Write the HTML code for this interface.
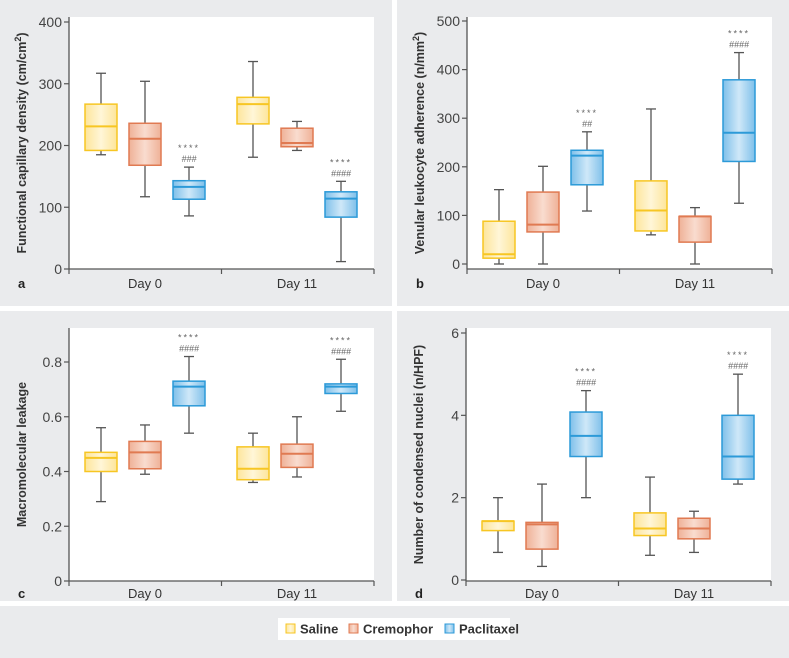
<!DOCTYPE html>
<html><head><meta charset="utf-8"><style>
html,body{margin:0;padding:0;background:#fff;}
svg{display:block;font-family:"Liberation Sans",sans-serif;}
</style></head><body>
<svg id="fig" width="789" height="658" viewBox="0 0 789 658" xmlns="http://www.w3.org/2000/svg">
<defs>
<linearGradient id="gS" x1="0" x2="1"><stop offset="0" stop-color="#fde59a"/><stop offset="0.5" stop-color="#fff6d8"/><stop offset="1" stop-color="#fde59a"/></linearGradient>
<linearGradient id="gC" x1="0" x2="1"><stop offset="0" stop-color="#efb197"/><stop offset="0.5" stop-color="#f9dccf"/><stop offset="1" stop-color="#efb197"/></linearGradient>
<linearGradient id="gP" x1="0" x2="1"><stop offset="0" stop-color="#7fc0ea"/><stop offset="0.5" stop-color="#cfe8f8"/><stop offset="1" stop-color="#7fc0ea"/></linearGradient>
</defs>
<rect x="0" y="0" width="789" height="658" fill="#fff"/>
<rect x="0" y="0" width="392" height="306" fill="#eaebed"/>
<rect x="397" y="0" width="392" height="306" fill="#eaebed"/>
<rect x="0" y="311" width="392" height="290" fill="#eaebed"/>
<rect x="397" y="311" width="392" height="290" fill="#eaebed"/>
<rect x="0" y="606" width="789" height="52" fill="#eaebed"/>
<g>
<rect x="278" y="618" width="232" height="22" fill="#fff"/>
<rect x="286" y="624" width="9" height="9" fill="url(#gS)" stroke="#f7c623"/>
<text x="300" y="633.5" font-size="13" font-weight="bold" fill="#333">Saline</text>
<rect x="349" y="624" width="9" height="9" fill="url(#gC)" stroke="#e07a52"/>
<text x="363" y="633.5" font-size="13" font-weight="bold" fill="#333">Cremophor</text>
<rect x="445" y="624" width="9" height="9" fill="url(#gP)" stroke="#2c9ad8"/>
<text x="459" y="633.5" font-size="13" font-weight="bold" fill="#333">Paclitaxel</text>
</g>
</svg>
<script>
const categories = ["Day 0", "Day 11"];
const groups = ["Saline", "Cremophor", "Paclitaxel", "Saline", "Cremophor", "Paclitaxel"];
const aLow  = [185, 117, 86, 181, 192, 12];
const aQ1   = [192, 168, 113, 235, 198, 84];
const aMed  = [231, 211, 133, 267, 204, 114];
const aQ3   = [267, 236, 143, 278, 228, 125];
const aHigh = [317, 304, 165, 336, 239, 142];
const aTicks = [0, 100, 200, 300, 400];
const aSig = ["", "", "****|###", "", "", "****|####"];
const bLow  = [0, 0, 109, 60, 0, 125];
const bQ1   = [12, 66, 163, 68, 45, 211];
const bMed  = [20, 81, 223, 110, 98, 270];
const bQ3   = [88, 148, 234, 171, 98, 379];
const bHigh = [153, 201, 272, 319, 116, 435];
const bTicks = [0, 100, 200, 300, 400, 500];
const bSig = ["", "", "****|##", "", "", "****|####"];
const cLow  = [0.29, 0.39, 0.54, 0.36, 0.38, 0.62];
const cQ1   = [0.40, 0.41, 0.64, 0.37, 0.415, 0.685];
const cMed  = [0.45, 0.47, 0.71, 0.41, 0.465, 0.71];
const cQ3   = [0.47, 0.51, 0.73, 0.49, 0.50, 0.72];
const cHigh = [0.56, 0.57, 0.82, 0.54, 0.60, 0.81];
const cTicks = [0, 0.2, 0.4, 0.6, 0.8];
const cSig = ["", "", "****|####", "", "", "****|####"];
const dLow  = [0.67, 0.33, 2.0, 0.6, 0.67, 2.33];
const dQ1   = [1.2, 0.75, 3.0, 1.08, 1.0, 2.45];
const dMed  = [1.43, 1.35, 3.5, 1.25, 1.25, 3.0];
const dQ3   = [1.43, 1.4, 4.08, 1.63, 1.5, 4.0];
const dHigh = [2.0, 2.33, 4.6, 2.5, 1.67, 5.0];
const dTicks = [0, 2, 4, 6];
const dSig = ["", "", "****|####", "", "", "****|####"];

const NS = "http://www.w3.org/2000/svg";
const svg = document.getElementById("fig");
const fills = ["url(#gS)", "url(#gC)", "url(#gP)"];
const strokes = ["#f7c623", "#e07a52", "#2c9ad8"];
function mk(tag, attrs, parent) {
  const e = document.createElementNS(NS, tag);
  for (const k in attrs) e.setAttribute(k, attrs[k]);
  (parent || svg).appendChild(e);
  return e;
}
function panel(o) {
  const g = mk("g", {});
  
  
  const X0 = o.ax, X1 = o.ax + 305, YT = o.top;
  const yS = v => o.y0 - (v / o.max) * (o.y0 - o.ymaxPx);
  const xS = i => X0 + 32 + Math.floor(i / 3) * 152 + (i % 3) * 44;
  const bg = mk("rect", {x: X0, y: YT, width: 305, height: o.axisY - YT, fill: "#fff"}, g);
  
  
  const ya = mk("line", {x1: X0, x2: X0, y1: YT, y2: o.axisY, stroke: "#555", "stroke-width": 1.3}, g);
  
  
  const xa = mk("line", {x1: X0, x2: X1, y1: o.axisY, y2: o.axisY, stroke: "#555", "stroke-width": 1.3}, g);
  
  
  o.ticks.forEach(t => {
    const y = yS(t);
    mk("line", {x1: X0 - 5, x2: X0, y1: y, y2: y, stroke: "#555", "stroke-width": 1.2}, g);
    const tx = mk("text", {x: X0 - 7, y: y + 5, "text-anchor": "end", "font-size": 14, fill: "#444"}, g);
    
    
    tx.textContent = String(t);
  });
  [X0, (X0 + X1) / 2, X1].forEach(x => mk("line", {x1: x, x2: x, y1: o.axisY, y2: o.axisY + 5, stroke: "#555", "stroke-width": 1.2}, g));
  categories.forEach((c, i) => {
    const t = mk("text", {x: X0 + 76 + i * 152, y: o.axisY + o.lblDy, "text-anchor": "middle", "font-size": 13, fill: "#333"}, g);
    
    
    t.textContent = c;
  });
  const L = mk("text", {x: o.ax - 51, y: o.axisY + o.lblDy, "font-size": 13, "font-weight": "bold", fill: "#222"}, g);
  
  
  L.textContent = o.id;
  const yl = mk("text", {x: 0, y: 0, "text-anchor": "middle", "font-size": 12.5, "font-weight": "600", fill: "#333",
    transform: "translate(" + (o.ax - 43) + "," + ((YT + o.axisY) / 2) + ") rotate(-90)"}, g);
  
  
  yl.innerHTML = o.label;
  for (let i = 0; i < 6; i++) {
    const cx = xS(i), k = i % 3;
    const bx = mk("g", {}, g);
    
    
    mk("line", {x1: cx, x2: cx, y1: yS(o.hi[i]), y2: yS(o.lo[i]), stroke: "#555", "stroke-width": 1.3}, bx);
    mk("line", {x1: cx - 5, x2: cx + 5, y1: yS(o.hi[i]), y2: yS(o.hi[i]), stroke: "#555", "stroke-width": 1.3}, bx);
    mk("line", {x1: cx - 5, x2: cx + 5, y1: yS(o.lo[i]), y2: yS(o.lo[i]), stroke: "#555", "stroke-width": 1.3}, bx);
    mk("rect", {x: cx - 16, y: yS(o.q3[i]), width: 32, height: Math.max(1, yS(o.q1[i]) - yS(o.q3[i])), fill: fills[k], stroke: strokes[k], "stroke-width": 1.5}, bx);
    mk("line", {x1: cx - 16, x2: cx + 16, y1: yS(o.med[i]), y2: yS(o.med[i]), stroke: strokes[k], "stroke-width": 2}, bx);
    if (o.sig[i]) {
      const parts = o.sig[i].split("|");
      const top = yS(o.hi[i]);
      const s = mk("text", {x: cx, y: top - 16, "text-anchor": "middle", "font-size": 9, "letter-spacing": "2", fill: "#666"}, bx);
      
      
      s.textContent = parts[0];
      const h = mk("text", {x: cx, y: top - 5, "text-anchor": "middle", "font-size": 9, "font-style": "italic", fill: "#666"}, bx);
      
      
      h.textContent = parts[1];
    }
  }
}
panel({id: "a", ax: 69, top: 17, axisY: 269, y0: 269, ymaxPx: 22, max: 400, ticks: aTicks, lblDy: 19,
  lo: aLow, q1: aQ1, med: aMed, q3: aQ3, hi: aHigh, sig: aSig,
  label: 'Functional capillary density (cm/cm<tspan dy="-5" font-size="9">2</tspan><tspan dy="5">)</tspan>'});
panel({id: "b", ax: 467, top: 17, axisY: 269, y0: 264, ymaxPx: 21, max: 500, ticks: bTicks, lblDy: 19,
  lo: bLow, q1: bQ1, med: bMed, q3: bQ3, hi: bHigh, sig: bSig,
  label: 'Venular leukocyte adherence (n/mm<tspan dy="-5" font-size="9">2</tspan><tspan dy="5">)</tspan>'});
panel({id: "c", ax: 69, top: 328, axisY: 581, y0: 581, ymaxPx: 362, max: 0.8, ticks: cTicks, lblDy: 17,
  lo: cLow, q1: cQ1, med: cMed, q3: cQ3, hi: cHigh, sig: cSig,
  label: 'Macromolecular leakage'});
panel({id: "d", ax: 466, top: 328, axisY: 581, y0: 580, ymaxPx: 333, max: 6, ticks: dTicks, lblDy: 17,
  lo: dLow, q1: dQ1, med: dMed, q3: dQ3, hi: dHigh, sig: dSig,
  label: 'Number of condensed nuclei (n/HPF)'});
</script>
</body></html>
